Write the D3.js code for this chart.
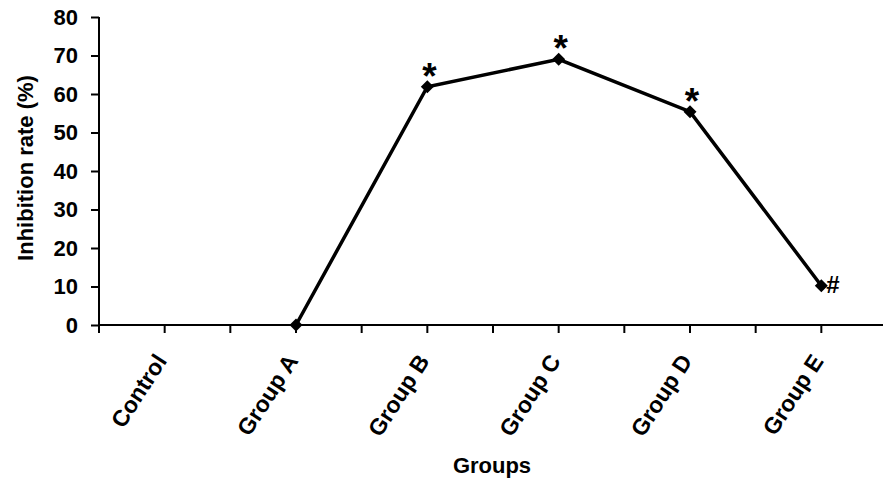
<!DOCTYPE html>
<html><head><meta charset="utf-8">
<script src="https://cdn.jsdelivr.net/npm/d3@7"></script>
<style>body{margin:0;background:#fff}svg{display:block}text{font-family:Arial,"Liberation Sans",sans-serif;font-weight:bold;fill:#000}</style>
</head><body>
<script>
const categories = ["Control","Group A","Group B","Group C","Group D","Group E"];
const values = [null, 0, 61.9, 69.0, 55.4, 10.2];
const marks = ["", "", "*", "*", "*", "#"];
const yTicks = [0,10,20,30,40,50,60,70,80];

const W = 883, H = 482;
const svg = d3.select("body").append("svg").attr("width", W).attr("height", H);

const x = d3.scaleBand().domain(categories).range([99, 887]).padding(0);
const y = d3.scaleLinear().domain([0, 80]).range([325, 17]);
const cx = d => x(d) + x.bandwidth() / 2;

// y axis
const ya = svg.append("g").attr("transform", "translate(99,0)")
  .call(d3.axisLeft(y).tickValues(yTicks).tickSize(8).tickPadding(13).tickFormat(d3.format("d")));
ya.select(".domain").attr("stroke", "#000").attr("stroke-width", 2).attr("d", `M0,${y(80)}V${y(0)}`);
ya.selectAll(".tick line").attr("stroke", "#000").attr("stroke-width", 2);
ya.selectAll(".tick text").style("font-size", "22px").style("font-family", "Arial, 'Liberation Sans', sans-serif").style("font-weight", "bold");

// x axis
const xg = svg.append("g").attr("transform", `translate(0,${y(0)})`);
xg.append("line").attr("x1", 99).attr("x2", 887).attr("stroke", "#000").attr("stroke-width", 2);
const tickPos = [];
categories.forEach(c => { tickPos.push(x(c)); tickPos.push(cx(c)); });
tickPos.push(x.range()[1]);
xg.selectAll("line.t").data(tickPos).enter().append("line").attr("class", "t")
  .attr("x1", d => d).attr("x2", d => d).attr("y1", 0).attr("y2", 8)
  .attr("stroke", "#000").attr("stroke-width", 2);
xg.selectAll("text.xl").data(categories).enter().append("text").attr("class", "xl")
  .attr("text-anchor", "end")
  .attr("transform", d => `translate(${cx(d) + 3},${36}) rotate(-57)`)
  .style("font-size", "23px")
  .text(d => d);

// axis titles
svg.append("text").attr("text-anchor", "middle")
  .attr("transform", `translate(33,168) rotate(-90)`)
  .style("font-size", "22px").text("Inhibition rate (%)");
svg.append("text").attr("text-anchor", "middle").attr("x", 492).attr("y", 473)
  .style("font-size", "22px").text("Groups");

// line
const pts = categories.map((c, i) => ({c, v: values[i], m: marks[i]})).filter(d => d.v !== null);
svg.append("path").datum(pts)
  .attr("fill", "none").attr("stroke", "#000").attr("stroke-width", 3.5).attr("stroke-linejoin", "miter")
  .attr("d", d3.line().x(d => cx(d.c)).y(d => y(d.v)));
svg.selectAll("path.mk").data(pts).enter().append("path").attr("class", "mk")
  .attr("transform", d => `translate(${cx(d.c)},${y(d.v)})`)
  .attr("d", "M0,-6.5L6.5,0L0,6.5L-6.5,0Z").attr("fill", "#000");

// significance marks
svg.selectAll("text.star").data(pts.filter(d => d.m === "*")).enter().append("text").attr("class", "star")
  .attr("text-anchor", "middle").attr("x", d => cx(d.c) + 2).attr("y", d => y(d.v) + 2)
  .style("font-size", "37px").text(d => d.m);
svg.selectAll("text.hash").data(pts.filter(d => d.m === "#")).enter().append("text").attr("class", "hash")
  .attr("text-anchor", "start").attr("x", d => cx(d.c) + 5).attr("y", d => y(d.v) + 7)
  .style("font-size", "24px").text(d => d.m);
</script>
</body></html>
